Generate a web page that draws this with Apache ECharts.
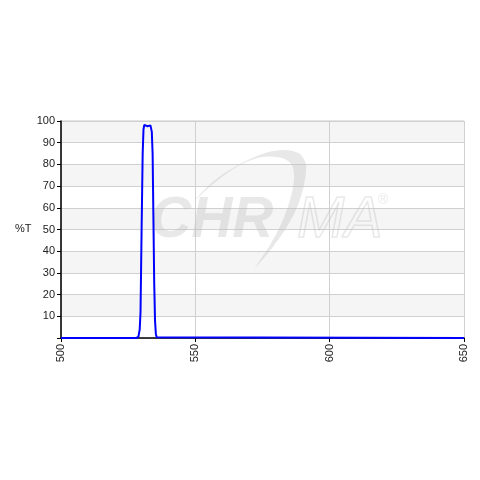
<!DOCTYPE html>
<html>
<head>
<meta charset="utf-8">
<script src="https://cdn.jsdelivr.net/npm/echarts@6/dist/echarts.min.js"></script>
<style>html,body{margin:0;padding:0;background:#fff}#c{width:480px;height:480px}</style>
</head>
<body>
<div id="c"></div>
<script>
var wavelength = [500, 528.0, 528.8, 529.3, 529.6, 530.0, 530.4, 530.7, 531.0, 531.6, 532.2, 532.8, 533.3, 533.8, 534.1, 534.4, 534.7, 535.0, 535.3, 535.6, 536.2, 650];
var transmission = [0, 0, 0.5, 4, 12, 50, 85, 96, 98.2, 98.0, 97.6, 97.8, 98.0, 95, 85, 55, 25, 8, 2, 0.3, 0, 0];
var xTicks = [500, 550, 600, 650];
var yTicks = [10, 20, 30, 40, 50, 60, 70, 80, 90, 100];

var data = wavelength.map(function (w, i) { return [w, transmission[i]]; });
var chart = echarts.init(document.getElementById('c'), null, {renderer: 'canvas'});
var font = 'Liberation Sans, Arial, sans-serif';
var wm = 'rgba(190,190,190,0.35)';
var swoosh = [[195,200],[215,180],[240,164],[265,153],[285,150],[300,154],[306,165],[304,185],[298,205],[288,225],[272,248],[255,268],
  [270,245],[282,222],[290,200],[294,180],[292,165],[282,158],[262,157],[240,165],[218,180]];
chart.setOption({
  animation: false,
  backgroundColor: '#ffffff',
  grid: {left: 61, right: 16, top: 121, bottom: 142, show: true, borderColor: '#c8c8c8', borderWidth: 1, backgroundColor: 'transparent'},
  graphic: [
    {type: 'text', x: 15, y: 223, style: {text: '%T', font: '11px ' + font, fill: '#222'}},
    {type: 'text', x: 150, y: 193, z: 1, style: {text: 'CHR', font: 'italic bold 57px ' + font, fill: wm}},
    {type: 'text', x: 297, y: 193, z: 1, style: {text: 'MA', font: 'italic 57px ' + font, fill: 'rgba(255,255,255,0)', stroke: wm, lineWidth: 1.5}},
    {type: 'text', x: 378, y: 193, z: 1, style: {text: '\u00AE', font: '14px ' + font, fill: wm}},
    {type: 'polygon', z: 1, shape: {points: swoosh, smooth: 0.3}, style: {fill: wm}}
  ],
  xAxis: {
    type: 'value', min: 500, max: 650, interval: 50,
    axisLine: {show: true, onZero: false, lineStyle: {color: '#000', width: 1.5}},
    axisTick: {show: true, length: 4, lineStyle: {color: '#000'}},
    axisLabel: {rotate: 90, fontSize: 11, fontFamily: font, color: '#222', margin: 6},
    splitLine: {show: true, lineStyle: {color: '#d0d0d0', width: 1}}
  },
  yAxis: {
    type: 'value', min: 0, max: 100, interval: 10,
    axisLine: {show: true, lineStyle: {color: '#000', width: 1.5}},
    axisTick: {show: true, length: 4, lineStyle: {color: '#000'}},
    axisLabel: {fontSize: 11, fontFamily: font, color: '#222', margin: 6,
      formatter: function (v) { return yTicks.indexOf(v) >= 0 ? String(v) : ''; }},
    splitLine: {show: true, lineStyle: {color: '#d0d0d0', width: 1}},
    splitArea: {show: true, areaStyle: {color: ['#ffffff', '#f5f5f5']}}
  },
  series: [{
    type: 'line', data: data, showSymbol: false, symbol: 'none', zlevel: 1, z: 5, clip: false,
    lineStyle: {color: '#0000ff', width: 2}
  }]
});
</script>
</body>
</html>
